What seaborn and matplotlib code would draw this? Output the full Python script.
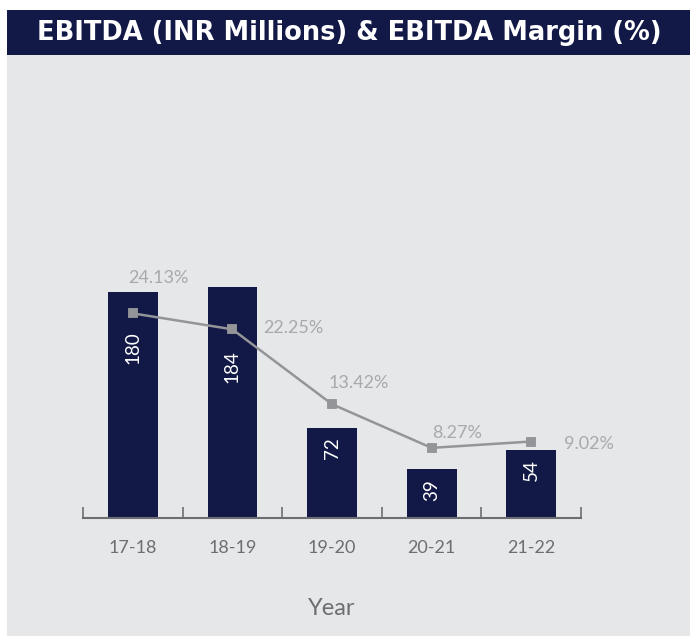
"""EBITDA (INR Millions) bars with EBITDA margin line on a twin axis."""

import matplotlib

matplotlib.use("Agg")
import matplotlib.pyplot as plt
import seaborn as sns
from matplotlib.patches import Rectangle
from matplotlib.ticker import FixedLocator

YEARS = ["17-18", "18-19", "19-20", "20-21", "21-22"]
EBITDA = [180, 184, 72, 39, 54]
MARGIN = [24.13, 22.25, 13.42, 8.27, 9.02]
MARGIN_LABELS = ["24.13%", "22.25%", "13.42%", "8.27%", "9.02%"]

NAVY = "#131947"
PANEL = "#e6e7e9"
LINE_GREY = "#939598"
LABEL_GREY = "#a7a9ac"
AXIS_GREY = "#6d6e71"

# label offsets in pixels (bar value below bar top, margin label from marker)
BAR_LABEL_OFFSETS = [-56, -80, -21, -21, -20]
MARGIN_LABEL_OFFSETS = [(26, 35), (61, 1), (27, 21), (25, 15), (58, -2)]


def main() -> None:
    sns.set_theme(style="white")
    plt.rcParams["font.family"] = ["Lato", "DejaVu Sans"]

    W, H = 690, 636
    fig = plt.figure(figsize=(W / 100, H / 100), dpi=100, facecolor="white")

    # grey panel and title bar
    fig.patches.append(Rectangle((7 / W, 0), 1 - 7 / W, 1 - 55 / H, transform=fig.transFigure,
                                 facecolor=PANEL, edgecolor="none", zorder=-2))
    fig.patches.append(Rectangle((7 / W, 1 - 55 / H), 1 - 7 / W, 45 / H, transform=fig.transFigure,
                                 facecolor=NAVY, edgecolor="none", zorder=-2))
    fig.text(349 / W, 1 - 33 / H, "EBITDA (INR Millions) & EBITDA Margin (%)", color="white",
             fontsize=18.5, fontweight="bold", ha="center", va="center", family="DejaVu Sans")

    left, right = 83, 581
    base, top = 518, 70
    ax = fig.add_axes([left / W, 1 - base / H, (right - left) / W, (base - top) / H])
    ax.set_facecolor("none")

    sns.barplot(x=YEARS, y=EBITDA, ax=ax, color=NAVY, saturation=1, width=0.5, linewidth=0)
    ax.set_xlim(-0.5, 4.5)
    ax.set_ylim(0, (base - top) / 1.256)

    for i, (v, dy) in enumerate(zip(EBITDA, BAR_LABEL_OFFSETS)):
        ax.annotate(str(v), (i, v), xytext=(0, dy), textcoords="offset pixels", rotation=90,
                    ha="center", va="center", color="white", fontsize=13.5)

    ax2 = ax.twinx()
    sns.pointplot(x=YEARS, y=MARGIN, ax=ax2, color=LINE_GREY, markers="s",
                  markersize=6, linewidth=1.8)
    ax2.set_xlim(-0.5, 4.5)
    ax2.set_ylim(0, (base - top) / 8.48)
    for i, (v, lab, (dx, dy)) in enumerate(zip(MARGIN, MARGIN_LABELS, MARGIN_LABEL_OFFSETS)):
        ax2.annotate(lab, (i, v), xytext=(dx, dy), textcoords="offset pixels",
                     ha="center", va="center", color=LABEL_GREY, fontsize=13)

    for a in (ax, ax2):
        for side in ("top", "right", "left"):
            a.spines[side].set_visible(False)
        a.set_yticks([])
        a.set_ylabel("")
    ax2.spines["bottom"].set_visible(False)
    ax2.tick_params(axis="x", bottom=False, labelbottom=False)

    ax.spines["bottom"].set_color(AXIS_GREY)
    ax.spines["bottom"].set_linewidth(1.5)
    ax.xaxis.set_minor_locator(FixedLocator([-0.5, 0.5, 1.5, 2.5, 3.5, 4.5]))
    ax.tick_params(axis="x", which="major", length=0, pad=16, labelsize=13, labelcolor=AXIS_GREY)
    ax.tick_params(axis="x", which="minor", bottom=True, direction="in", length=8, width=1.2,
                   color=AXIS_GREY)
    ax.set_xlabel("Year", fontsize=17, color=AXIS_GREY, labelpad=30)

    fig.savefig("out.png", dpi=100, facecolor="white")


if __name__ == "__main__":
    main()
